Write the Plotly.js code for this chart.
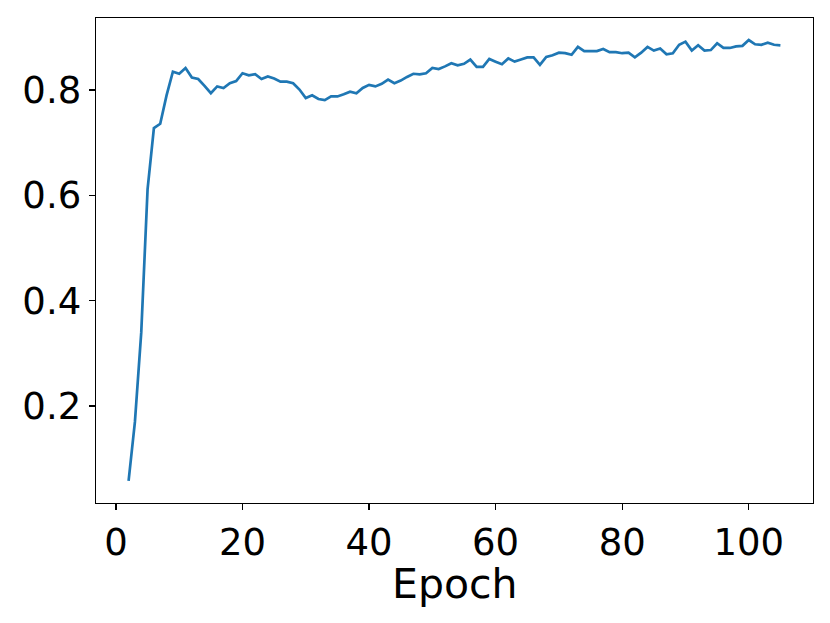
<!DOCTYPE html>
<html>
<head>
<meta charset="utf-8">
<script src="https://cdn.plot.ly/plotly-3.0.1.min.js"></script>
<style>html,body{margin:0;padding:0;background:#fff;}#chart{width:830px;height:623px;}</style>
</head>
<body>
<div id="chart"></div>
<script>
const epochs = [];
for (let e = 2; e <= 105; e++) epochs.push(e);
const accuracy = [
  0.058, 0.170, 0.340, 0.612, 0.728, 0.736, 0.790, 0.835, 0.831, 0.842,
  0.824, 0.821, 0.808, 0.794, 0.807, 0.804, 0.813, 0.817, 0.832, 0.828,
  0.830, 0.821, 0.826, 0.822, 0.816, 0.816, 0.813, 0.801, 0.785, 0.790,
  0.783, 0.781, 0.788, 0.788, 0.792, 0.797, 0.794, 0.804, 0.810, 0.807,
  0.812, 0.820, 0.813, 0.818, 0.825, 0.831, 0.830, 0.832, 0.842, 0.840,
  0.845, 0.851, 0.847, 0.850, 0.858, 0.844, 0.844, 0.859, 0.854, 0.849,
  0.860, 0.854, 0.858, 0.862, 0.862, 0.848, 0.863, 0.866, 0.871, 0.870,
  0.867, 0.882, 0.874, 0.874, 0.874, 0.878, 0.872, 0.872, 0.870, 0.871,
  0.862, 0.871, 0.882, 0.875, 0.879, 0.868, 0.870, 0.886, 0.892, 0.875,
  0.885, 0.875, 0.876, 0.889, 0.880, 0.880, 0.883, 0.884, 0.895, 0.887,
  0.886, 0.890, 0.886, 0.885
];
const xTicks = [0, 20, 40, 60, 80, 100];
const yTicks = [0.2, 0.4, 0.6, 0.8];
const yTickLabels = ['0.2', '0.4', '0.6', '0.8'];
const xLabel = 'Epoch';

const trace = {
  x: epochs, y: accuracy, type: 'scatter', mode: 'lines',
  line: {color: '#1f77b4', width: 2.7}, hoverinfo: 'skip'
};
const axisCommon = {
  showgrid: false, zeroline: false, showline: true, mirror: true,
  linecolor: '#000', linewidth: 1.4, ticks: 'outside', ticklen: 6,
  tickwidth: 1.4, tickcolor: '#000',
  tickfont: {family: 'DejaVu Sans', size: 37, color: '#000'}
};
const ymin = Math.min(...accuracy), ymax = Math.max(...accuracy);
const ypad = (ymax - ymin) * 0.05;
const xmin = epochs[0], xmax = epochs[epochs.length - 1];
const xpad = (xmax - xmin) * 0.05;
const layout = {
  width: 830, height: 623,
  margin: {l: 96, r: 17, t: 18, b: 120},
  paper_bgcolor: '#fff', plot_bgcolor: '#fff',
  showlegend: false,
  xaxis: Object.assign({}, axisCommon, {
    range: [xmin - xpad, xmax + xpad],
    tickvals: xTicks, ticktext: xTicks.map(String),
    automargin: false
  }),
  yaxis: Object.assign({}, axisCommon, {
    range: [ymin - ypad, ymax + ypad],
    tickvals: yTicks, ticktext: yTickLabels,
    automargin: false
  }),
  annotations: [{
    text: xLabel, xref: 'paper', yref: 'paper', x: 0.5, y: -0.166,
    xanchor: 'center', yanchor: 'middle', showarrow: false, borderpad: 0,
    font: {family: 'DejaVu Sans', size: 41, color: '#000'}
  }]
};
Plotly.newPlot('chart', [trace], layout, {staticPlot: true, displayModeBar: false});
</script>
</body>
</html>
